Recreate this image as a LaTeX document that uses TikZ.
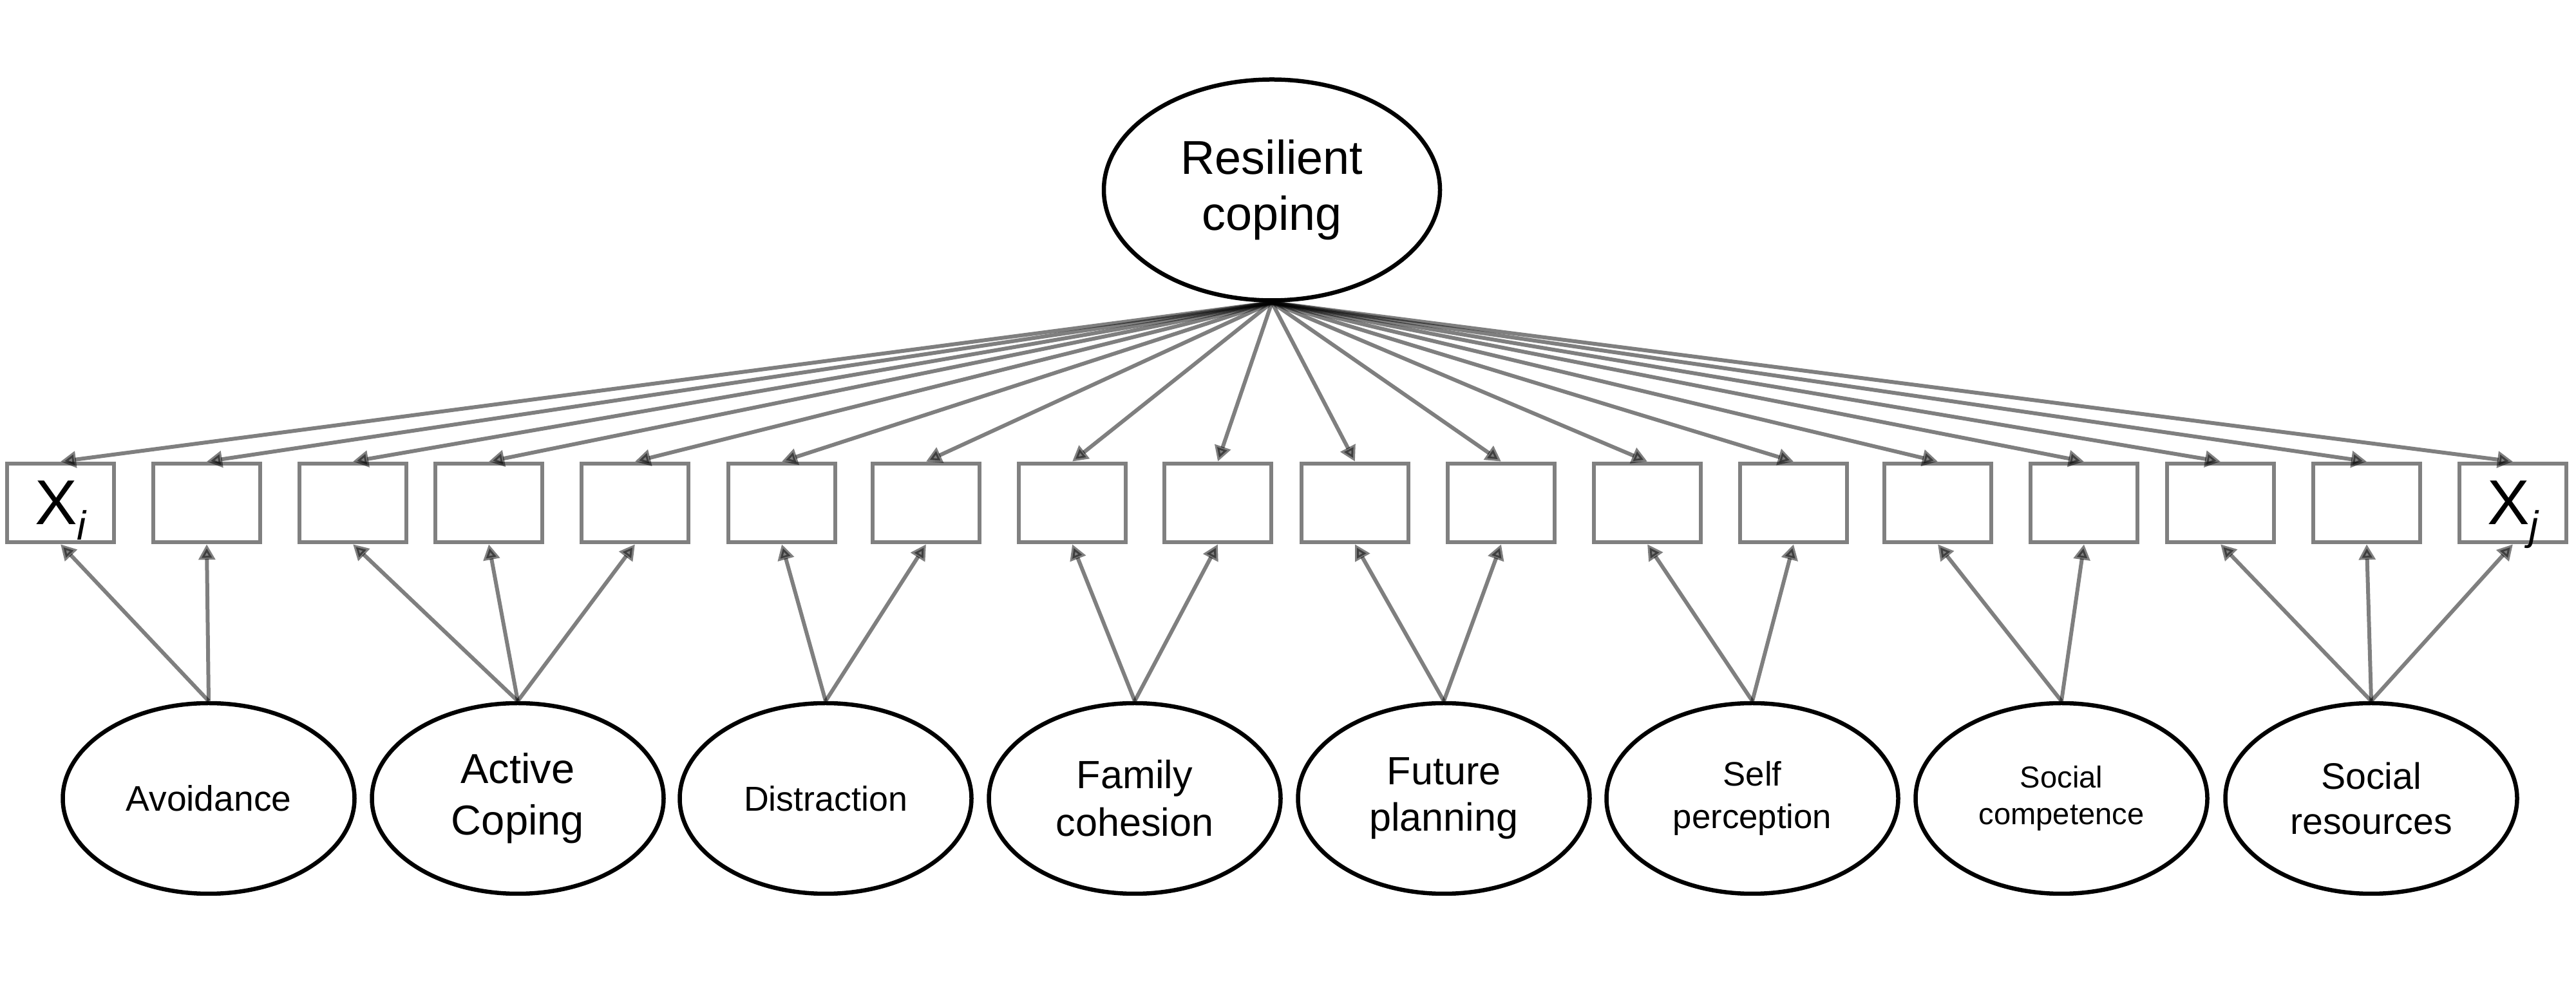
\documentclass[tikz,border=0pt]{standalone}
\usepackage{fontspec}
\setmainfont{Liberation Sans}
\usetikzlibrary{shapes.geometric,arrows.meta}

\newcommand{\xsub}[1]{X\smash{\raisebox{-0.24cm}{\fontsize{18}{18}\selectfont\itshape #1}}}

\tikzset{
  item/.style={draw=black!50, line width=0.065cm, minimum width=1.66cm, minimum height=1.22cm, inner sep=0pt, font=\fontsize{28}{30}\selectfont},
  factor/.style={ellipse, draw, line width=0.065cm, minimum width=4.53cm, minimum height=2.96cm, inner sep=0pt, align=center},
  load/.style={-{Triangle[length=0.24cm,width=0.25cm]}, line width=0.06cm, draw=black, opacity=0.5},
}

\begin{document}
\begin{tikzpicture}
  \useasboundingbox (0,0) rectangle (40,15.53);
  % second order factor
  \node[factor, minimum width=5.22cm, minimum height=3.43cm, font=\fontsize{21}{25}\selectfont] (res) at (19.75,12.58) {Resilient\\coping};
  % observed items
  \node[item] (x1) at (0.94,7.72) {\xsub{i}};
  \foreach \x [count=\i from 2] in {3.21,5.48,7.59,9.86,12.14,14.38,16.65,18.91,21.04,23.31,25.58,27.85,30.09,32.36,34.48,36.75}
    \node[item] (x\i) at (\x,7.72) {};
  \node[item] (x18) at (39.02,7.72) {\xsub{j}};
  % first order factors
  \node[factor, font=\fontsize{15.7}{19}\selectfont] (avo) at (3.24,3.13) {Avoidance};
  \node[factor, font=\fontsize{18.5}{22.7}\selectfont] (act) at (8.04,3.13) {Active\\Coping};
  \node[factor, font=\fontsize{15.3}{18}\selectfont] (dis) at (12.82,3.13) {Distraction};
  \node[factor, font=\fontsize{17.4}{21}\selectfont] (fam) at (17.62,3.13) {Family\\cohesion};
  \node[factor, font=\fontsize{17.4}{20.5}\selectfont] (fut) at (22.42,3.13) {Future\\planning};
  \node[factor, font=\fontsize{15}{18.8}\selectfont] (sel) at (27.21,3.13) {Self\\perception};
  \node[factor, font=\fontsize{13.4}{16.2}\selectfont] (com) at (32.01,3.13) {Social\\competence};
  \node[factor, font=\fontsize{16.3}{19.9}\selectfont] (soc) at (36.82,3.13) {Social\\resources};
  % loadings of the second order factor
  \foreach \i in {1,...,18}
    \draw[load] (res.south) -- (x\i.north);
  % loadings of the first order factors
  \foreach \i in {1,2} \draw[load] (avo.north) -- (x\i.south);
  \foreach \i in {3,4,5} \draw[load] (act.north) -- (x\i.south);
  \foreach \i in {6,7} \draw[load] (dis.north) -- (x\i.south);
  \foreach \i in {8,9} \draw[load] (fam.north) -- (x\i.south);
  \foreach \i in {10,11} \draw[load] (fut.north) -- (x\i.south);
  \foreach \i in {12,13} \draw[load] (sel.north) -- (x\i.south);
  \foreach \i in {14,15} \draw[load] (com.north) -- (x\i.south);
  \foreach \i in {16,17,18} \draw[load] (soc.north) -- (x\i.south);
\end{tikzpicture}
\end{document}
